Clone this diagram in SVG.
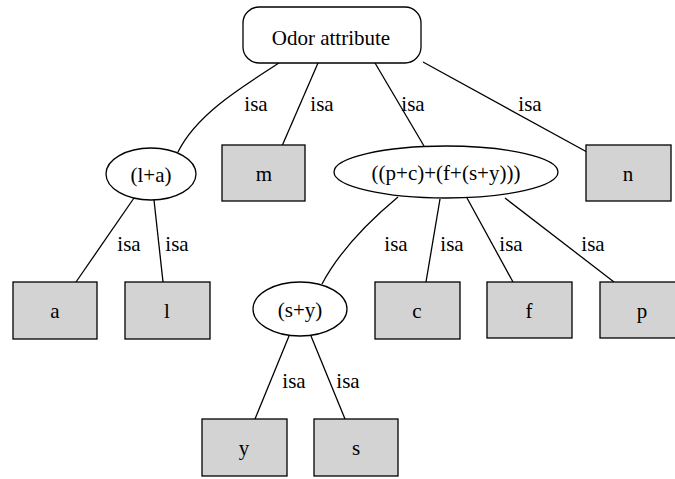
<svg xmlns="http://www.w3.org/2000/svg" width="675" height="479" viewBox="0 0 675 479">
<style>
text{font-family:"Liberation Serif","Times New Roman",serif;font-size:21px;fill:#000;text-anchor:middle}
.box{fill:#d3d3d3;stroke:#000;stroke-width:1.3}
.ell{fill:#fff;stroke:#000;stroke-width:1.3}
.e{fill:none;stroke:#000;stroke-width:1.3}
</style>
<rect width="675" height="479" fill="#fff"/>
<g id="connectors">
<path class="e" d="M279,63 C240,88 196,115 178,152"/>
<path class="e" d="M318,63 L282,146"/>
<path class="e" d="M375,63 L424,146"/>
<path class="e" d="M423,62 L587,152"/>
<path class="e" d="M134,198 L76,282"/>
<path class="e" d="M154,200 L163,282"/>
<path class="e" d="M398,197 C368,222 340,250 322,284"/>
<path class="e" d="M440,199 L426,282"/>
<path class="e" d="M467,198 L513,282"/>
<path class="e" d="M505,198 L614,282"/>
<path class="e" d="M289,336 L255,419"/>
<path class="e" d="M311,336 L345,419"/>
<text x="256" y="111">isa</text>
<text x="322" y="111">isa</text>
<text x="413" y="111">isa</text>
<text x="530" y="111">isa</text>
<text x="129" y="251">isa</text>
<text x="177" y="251">isa</text>
<text x="396" y="251">isa</text>
<text x="452" y="251">isa</text>
<text x="511" y="251">isa</text>
<text x="593" y="251">isa</text>
<text x="294" y="388">isa</text>
<text x="348" y="388">isa</text>
</g>
<g id="root"><rect x="243" y="7" width="178" height="56" rx="16" ry="16" class="ell"/><text x="331" y="45">Odor attribute</text></g>
<g id="la"><ellipse cx="151" cy="174" rx="45" ry="26" class="ell"/><text x="151" y="182">(l+a)</text></g>
<g id="m"><rect x="222" y="145" width="83" height="56" class="box"/><text x="264" y="181">m</text></g>
<g id="pcfsy"><ellipse cx="446" cy="172" rx="112" ry="26" class="ell"/><text x="446" y="180">((p+c)+(f+(s+y)))</text></g>
<g id="n"><rect x="586" y="145" width="85" height="56" class="box"/><text x="628" y="181">n</text></g>
<g id="a"><rect x="13" y="282" width="84" height="57" class="box"/><text x="55" y="318">a</text></g>
<g id="l"><rect x="125" y="282" width="85" height="57" class="box"/><text x="167" y="318">l</text></g>
<g id="sy"><ellipse cx="300" cy="309" rx="47" ry="27" class="ell"/><text x="300" y="317">(s+y)</text></g>
<g id="c"><rect x="375" y="282" width="85" height="57" class="box"/><text x="417" y="318">c</text></g>
<g id="f"><rect x="487" y="282" width="85" height="56" class="box"/><text x="529" y="318">f</text></g>
<g id="p"><rect x="600" y="282" width="85" height="56" class="box"/><text x="642" y="318">p</text></g>
<g id="y"><rect x="202" y="419" width="85" height="57" class="box"/><text x="244" y="455">y</text></g>
<g id="s"><rect x="314" y="419" width="84" height="57" class="box"/><text x="356" y="455">s</text></g>
</svg>
